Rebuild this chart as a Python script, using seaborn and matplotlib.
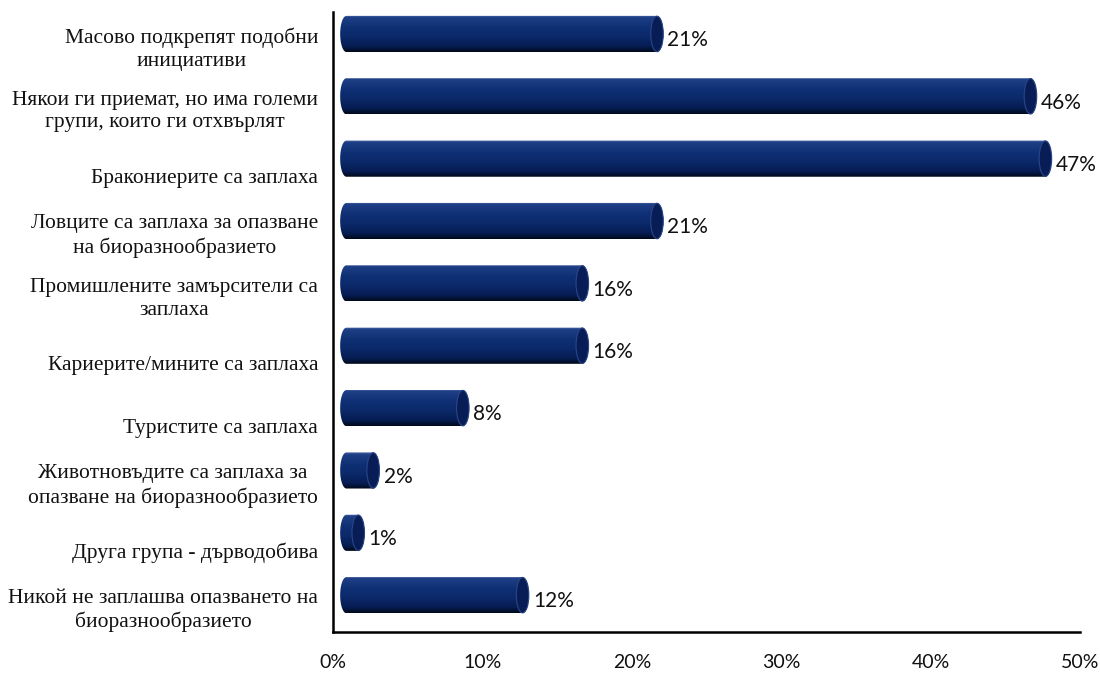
import numpy as np
import pandas as pd
import matplotlib
matplotlib.use("Agg")
import matplotlib.pyplot as plt
import matplotlib.transforms as mtrans
from matplotlib.path import Path
from matplotlib.patches import PathPatch, Ellipse
from matplotlib.colors import LinearSegmentedColormap
import seaborn as sns

categories = [
    "Масово подкрепят подобни\nинициативи",
    "Някои ги приемат, но има големи\nгрупи, които ги отхвърлят",
    "Бракониерите са заплаха",
    "Ловците са заплаха за опазване\nна биоразнообразието",
    "Промишлените замърсители са\nзаплаха",
    "Кариерите/мините са заплаха",
    "Туристите са заплаха",
    "Животновъдите са заплаха за\nопазване на биоразнообразието",
    "Друга група - дърводобива",
    "Никой не заплашва опазването на\nбиоразнообразието",
]
values = [21, 46, 47, 21, 16, 16, 8, 2, 1, 12]
x_ticks = [0, 10, 20, 30, 40, 50]
x_tick_labels = ["0%", "10%", "20%", "30%", "40%", "50%"]

sns.set_theme(style="white")
plt.rcParams["font.family"] = ["Liberation Serif", "DejaVu Serif"]

fig = plt.figure(figsize=(11, 6.73), dpi=100)
ax = fig.add_axes([0.303, 0.061, 0.679, 0.921])

df = pd.DataFrame({"cat": categories, "val": values})
sns.barplot(data=df, x="val", y="cat", orient="h", width=0.58,
            color="#0b2a6e", ax=ax)

cmap = LinearSegmentedColormap.from_list(
    "cyl", [(0.0, "#5a76b0"), (0.06, "#1e3f86"), (0.35, "#0f2f74"),
            (0.55, "#0c2a6c"), (0.85, "#061c52"), (1.0, "#000818")])
grad = np.linspace(0, 1, 256).reshape(-1, 1)

dx = 0.67     # depth offset (data units)
dy = 0.22     # depth offset (category units)
rx = 0.42     # cap half-width (data units)

for p, v in zip(ax.patches, values):
    x0 = p.get_x() + dx
    w = p.get_width()
    x1 = x0 + w
    h = p.get_height()
    yc = p.get_y() + h / 2 - dy
    ry = h / 2
    p.set_visible(False)
    t = np.linspace(-np.pi / 2, np.pi / 2, 60)
    right = np.column_stack([x1 + rx * np.cos(t), yc + ry * np.sin(t)])
    left = np.column_stack([x0 + rx * 0.5 - rx * np.cos(t[::-1]),
                            yc + ry * np.sin(t[::-1])])
    verts = np.vstack([right, left, right[:1]])
    path = Path(verts, closed=True)
    patch = PathPatch(path, facecolor="none", edgecolor="none")
    ax.add_patch(patch)
    im = ax.imshow(grad, cmap=cmap, aspect="auto", origin="upper",
                   extent=(x0 - rx, x1 + rx, yc + ry, yc - ry), zorder=2)
    im.set_clip_path(patch)
    cap = Ellipse((x1, yc), 2 * rx, 2 * ry * 0.98, facecolor="#081d55",
                  edgecolor="#2a4688", lw=0.8, zorder=3)
    ax.add_patch(cap)
    ax.annotate(f"{v}%", xy=(x1 + rx, yc), xytext=(3, -4.5),
                textcoords="offset points", va="center", ha="left",
                fontsize=15, family=["Lato", "DejaVu Sans"], color="#111111")

ax.set_xlim(0, 50)
ax.set_ylim(9.37, -0.57)
ax.set_xticks(x_ticks)
ax.set_xticklabels(x_tick_labels, family=["Lato", "DejaVu Sans"], fontsize=14)
ax.set_xlabel("")
ax.set_ylabel("")
ax.tick_params(axis="x", length=0, pad=16, colors="#111111")
ax.tick_params(axis="y", length=0, pad=11, colors="#111111")
for lbl in ax.get_yticklabels():
    lbl.set_fontsize(15.5)
    lbl.set_multialignment("center")
    lbl.set_linespacing(1.28)
    shift = 0.03 if "\n" in lbl.get_text() else -0.04
    lbl.set_transform(lbl.get_transform() +
                      mtrans.ScaledTranslation(0, shift, fig.dpi_scale_trans))

sns.despine(ax=ax)
ax.spines["left"].set_color("black")
ax.spines["bottom"].set_color("black")
ax.spines["left"].set_linewidth(1.8)
ax.spines["bottom"].set_linewidth(1.8)
ax.grid(False)

fig.savefig("out.png", dpi=100)
